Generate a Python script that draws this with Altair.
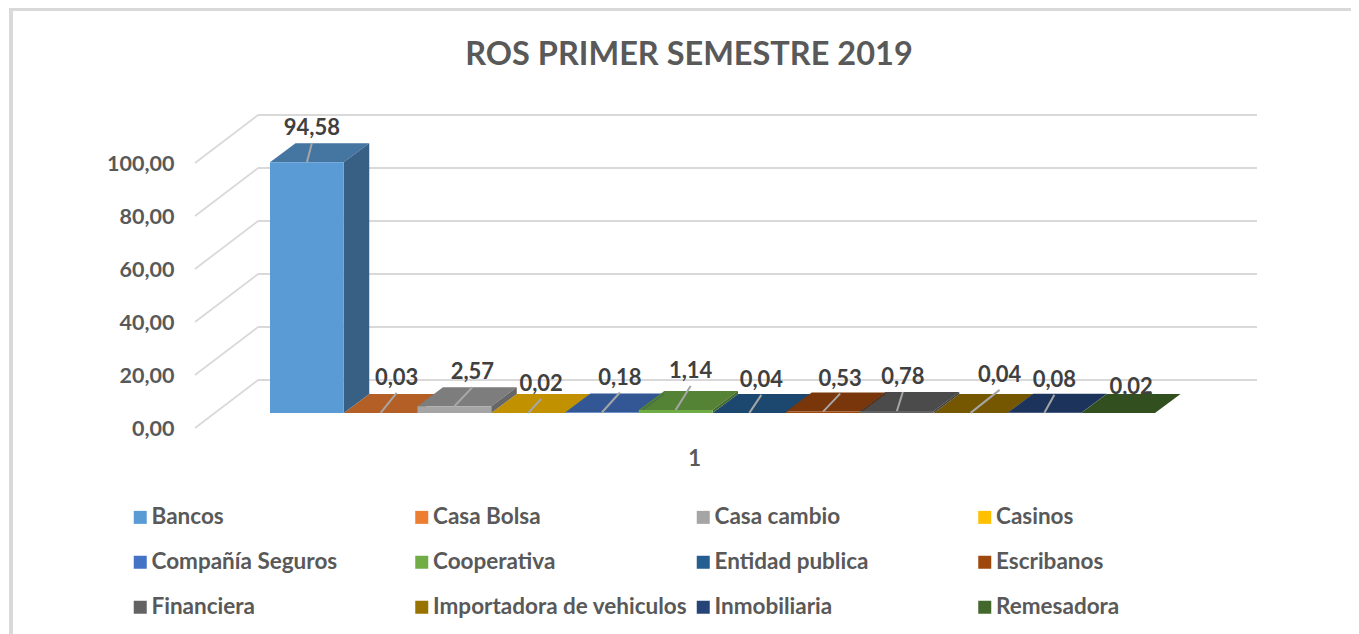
import altair as alt
import pandas as pd

# --- data ---
names = ["Bancos", "Casa  Bolsa", "Casa cambio", "Casinos", "Compañía Seguros", "Cooperativa",
         "Entidad publica", "Escribanos", "Financiera", "Importadora de vehiculos", "Inmobiliaria", "Remesadora"]
values = [94.58, 0.03, 2.57, 0.02, 0.18, 1.14, 0.04, 0.53, 0.78, 0.04, 0.08, 0.02]
colors = ["#5B9BD5", "#ED7D31", "#A5A5A5", "#FFC000", "#4472C4", "#70AD47",
          "#255E91", "#9E480E", "#636363", "#997300", "#264478", "#43682B"]
y_ticks = [0, 20, 40, 60, 80, 100]
# where Excel's hand-placed data labels sit relative to the centre of each bar's top (pixels)
label_dx = [5, 16, 18, 13, 18, 15, 12, 17, 6, 29, 10, 13]
label_dy = [36, 37, 36, 31, 37, 41, 35, 35, 36, 40, 35, 28]
has_leader = [1, 1, 1, 1, 1, 1, 1, 1, 1, 1, 1, 0]

# --- layout constants ---
W, H = 1343, 626
ORIGIN = 8
PX_PER_CAT = 73.75
PX_PER_UNIT = 2.65
BAR_X0 = 270
ZERO_Y = 428
BAR_LIFT = 15 / PX_PER_UNIT      # bars stand a little inside the floor
DEPTH_X = 25.5 / PX_PER_CAT      # bar depth
DEPTH_Y = 19 / PX_PER_UNIT
WALL_X0 = (195 - BAR_X0) / PX_PER_CAT
WALL_DX = 63 / PX_PER_CAT
WALL_DY = 48 / PX_PER_UNIT
WALL_X1 = (1257 - BAR_X0) / PX_PER_CAT
GREY = "#595959"
FONT = "Lato"

xscale = alt.Scale(domain=[(ORIGIN - BAR_X0) / PX_PER_CAT, (ORIGIN + W - BAR_X0) / PX_PER_CAT], nice=False, zero=False)
yscale = alt.Scale(domain=[(ZERO_Y - ORIGIN - H) / PX_PER_UNIT, (ZERO_Y - ORIGIN) / PX_PER_UNIT], nice=False, zero=False)

value_axis = alt.Axis(values=y_ticks, domain=False, ticks=False, grid=False, offset=-166, labelPadding=0, labelOffset=1,
                      labelExpr="replace(format(datum.value,'.2f'),'.',',')", labelFont=FONT, labelFontSize=21.5,
                      labelFontWeight="bold", labelColor=GREY, title=None)
cat_axis = alt.Axis(values=[5.75], domain=False, ticks=False, grid=False, offset=-186, labelPadding=0,
                    labelExpr="'1'", labelFont=FONT, labelFontSize=22, labelFontWeight="bold", labelColor=GREY, title=None)


def shade(hex_colour, k):
    r, g, b = (int(hex_colour[i:i + 2], 16) for i in (1, 3, 5))
    return "#%02x%02x%02x" % (int(r * k), int(g * k), int(b * k))


def X(f, **kw):
    return alt.X(f, type="quantitative", scale=xscale, axis=cat_axis, **kw)


def Y(f, **kw):
    return alt.Y(f, type="quantitative", scale=yscale, axis=value_axis, **kw)


grid = pd.DataFrame({"v": y_ticks})
grid["x0"] = WALL_X0
grid["xb"] = WALL_X0 + WALL_DX
grid["xe"] = WALL_X1
grid["yb"] = grid["v"] + WALL_DY

front, tops, sides, leaders, labels = [], [], [], [], []
for i, (n, v, c) in enumerate(zip(names, values, colors)):
    base, top = BAR_LIFT, BAR_LIFT + v
    front.append(dict(name=n, x=i, x2=i + 1, y=base, y2=top))
    tops += [dict(k=i, fill=shade(c, 0.76), y=top, x=i, x2=i + 1),
             dict(k=i, fill=shade(c, 0.76), y=top + DEPTH_Y, x=i + DEPTH_X, x2=i + 1 + DEPTH_X)]
    sides += [dict(k=i, fill=shade(c, 0.62), x=i + 1, y=top, y2=base),
              dict(k=i, fill=shade(c, 0.62), x=i + 1 + DEPTH_X, y=top + DEPTH_Y, y2=base + DEPTH_Y)]
    lx = i + 0.5 + label_dx[i] / PX_PER_CAT
    ly = top + label_dy[i] / PX_PER_UNIT
    labels.append(dict(x=lx, y=ly, t=f"{v:.2f}".replace(".", ",")))
    if has_leader[i]:
        leaders.append(dict(x=i + 0.5, y=top, x2=lx, y2=ly - 17 / PX_PER_UNIT))

front, tops, sides, leaders, labels = map(pd.DataFrame, (front, tops, sides, leaders, labels))

GRID_STYLE = dict(color="#d9d9d9", strokeWidth=1.8)

wall = alt.Chart(grid).mark_rule(**GRID_STYLE).encode(X("xb:Q"), alt.X2("xe"), Y("yb:Q"))
diag = alt.Chart(grid).mark_rule(**GRID_STYLE).encode(X("x0:Q"), alt.X2("xb"), Y("v:Q"), alt.Y2("yb"))

top_faces = alt.Chart(tops).mark_area(orient="horizontal").encode(
    X("x:Q", stack=None), alt.X2("x2"), Y("y:Q"), alt.Color("fill:N", scale=None), alt.Detail("k:N"))
side_faces = alt.Chart(sides).mark_area(orient="vertical").encode(
    X("x:Q"), Y("y:Q", stack=None), alt.Y2("y2"), alt.Color("fill:N", scale=None), alt.Detail("k:N"))
front_faces = alt.Chart(front).mark_bar().encode(
    X("x:Q"), alt.X2("x2"), Y("y:Q"), alt.Y2("y2"),
    alt.Color("name:N", scale=alt.Scale(domain=names, range=colors), title=None, sort=names,
              legend=alt.Legend(orient="none", legendX=121, legendY=498, columns=4, direction="horizontal",
                                gridAlign="all", symbolType="square", symbolSize=169, symbolStrokeWidth=0,
                                symbolOpacity=1, labelFont=FONT, labelFontSize=22.5, labelFontWeight="bold",
                                labelColor=GREY, labelOffset=0, labelLimit=300, rowPadding=22, columnPadding=4.5)))
leader_lines = alt.Chart(leaders).mark_rule(color="#a6a6a6", strokeWidth=2).encode(
    X("x:Q"), alt.X2("x2"), Y("y:Q"), alt.Y2("y2"))
label_text = alt.Chart(labels).mark_text(font=FONT, fontSize=22, fontWeight="bold", color="#404040", dy=2,
                                         align="center", baseline="middle").encode(X("x:Q"), Y("y:Q"), text="t:N")

frame_top = alt.Chart(grid).mark_rule(color="#d9d9d9", strokeWidth=3).encode(
    x=alt.value(3), x2=alt.value(W), y=alt.value(1.5))
frame_left = alt.Chart(grid).mark_rule(color="#d9d9d9", strokeWidth=3).encode(
    x=alt.value(3), y=alt.value(0), y2=alt.value(H))

chart = alt.layer(
    wall, diag, top_faces, side_faces, front_faces, leader_lines, label_text, frame_top, frame_left
).resolve_scale(color="independent").properties(
    width=W, height=H, padding=0, autosize=alt.AutoSizeParams(type="none"),
    title=alt.TitleParams("ROS PRIMER SEMESTRE 2019", font=FONT, fontSize=32.5, fontWeight="bold", color=GREY,
                          anchor="middle", frame="group", offset=-65, dx=9.5)
).configure_view(stroke=None)

chart.save("out.html", embed_options={"renderer": "svg", "actions": False})
